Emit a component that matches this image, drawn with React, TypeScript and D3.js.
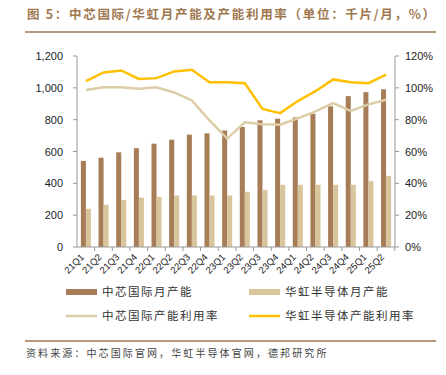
import React from "react";
import * as d3 from "d3";

const quarters = ["21Q1","21Q2","21Q3","21Q4","22Q1","22Q2","22Q3","22Q4","23Q1","23Q2","23Q3","23Q4","24Q1","24Q2","24Q3","24Q4","25Q1","25Q2"];
const smicCap = [541,561,595,621,649,674,706,714,732,754,796,806,814,837,884,948,973,991];
const hhCap = [240,265,295,310,315,324,324,324,324,347,358,391,391,391,391,391,414,447];
const smicUtil = [98.7,100.4,100.3,99.5,100.4,97.1,92.1,79.5,68.1,78.3,77.1,76.8,80.8,85.2,90.4,85.5,89.6,92.5];
const hhUtil = [104.2,109.7,110.9,105.6,106.1,110.3,111.4,103.5,103.5,102.9,86.7,84.1,91.7,97.9,105.3,103.5,102.9,108.3];
const leftTicks = [0,200,400,600,800,1000,1200];
const rightTicks = [0,20,40,60,80,100,120];

const C_SMIC = "#A67D57";
const C_HH = "#D9C59B";
const C_SMIC_L = "#DCCDA6";
const C_HH_L = "#FFC000";
const C_TITLE = "#A0784F";
const FONT = "'Liberation Sans', Arial, sans-serif";
const CJK = "'Noto Sans CJK SC', sans-serif";

export default function App() {
  const W = 446, H = 375;
  const x0 = 77, x1 = 395, yTop = 56, yBot = 247;
  const x = d3.scaleBand<string>().domain(quarters).range([x0, x1]).paddingInner(0.43).paddingOuter(0.22);
  const step = x.step();
  const bw = x.bandwidth() / 2;
  const yL = d3.scaleLinear().domain([0, 1200]).range([yBot, yTop]);
  const yR = d3.scaleLinear().domain([0, 120]).range([yBot, yTop]);
  const cx = (q: string) => (x(q) as number) + x.bandwidth() / 2;
  const lineSmic = d3.line<number>().x((_, i) => cx(quarters[i])).y((d) => yR(d))(smicUtil) as string;
  const lineHH = d3.line<number>().x((_, i) => cx(quarters[i])).y((d) => yR(d))(hhUtil) as string;
  const fmt = d3.format(",");

  return (
    <svg width={W} height={H} style={{ position: "absolute", left: 0, top: 0, background: "#fff" }}>
      <text x={27} y={19} fill={C_TITLE} fontFamily={CJK} fontSize={12.5} fontWeight={700} letterSpacing={1.7}>
        图 5：中芯国际/华虹月产能及产能利用率（单位：千片/月，%）
      </text>
      <line x1={25} x2={436} y1={32} y2={32} stroke={C_TITLE} strokeWidth={1.5} />

      {/* bars */}
      {quarters.map((q, i) => (
        <g key={q}>
          <rect x={x(q)} y={yL(smicCap[i])} width={bw} height={yBot - yL(smicCap[i])} fill={C_SMIC} />
          <rect x={(x(q) as number) + bw} y={yL(hhCap[i])} width={bw} height={yBot - yL(hhCap[i])} fill={C_HH} />
        </g>
      ))}

      {/* axes */}
      <line x1={x0} x2={x0} y1={yTop} y2={yBot} stroke="#999" strokeWidth={1} />
      <line x1={x1} x2={x1} y1={yTop} y2={yBot} stroke="#999" strokeWidth={1} />
      <line x1={x0} x2={x1} y1={yBot} y2={yBot} stroke="#999" strokeWidth={1} />
      {leftTicks.map((t) => (
        <g key={"l" + t}>
          <line x1={x0 - 4} x2={x0} y1={yL(t)} y2={yL(t)} stroke="#999" />
          <text x={x0 - 14} y={yL(t) + 4} textAnchor="end" fontFamily={FONT} fontSize={11} fill="#222">{fmt(t)}</text>
        </g>
      ))}
      {rightTicks.map((t) => (
        <g key={"r" + t}>
          <line x1={x1} x2={x1 + 4} y1={yR(t)} y2={yR(t)} stroke="#999" />
          <text x={x1 + 10} y={yR(t) + 4} textAnchor="start" fontFamily={FONT} fontSize={11} fill="#222">{t}%</text>
        </g>
      ))}
      {quarters.map((q, i) => (
        <line key={"t" + q} x1={x0 + step * (i + 1)} x2={x0 + step * (i + 1)} y1={yBot} y2={yBot + 4} stroke="#999" />
      ))}
      {quarters.map((q) => (
        <text key={"x" + q} transform={`translate(${cx(q) - 3},${yBot + 9}) rotate(-45)`} textAnchor="end" dominantBaseline="middle" fontFamily={FONT} fontSize={9.5} fill="#222">{q}</text>
      ))}

      {/* lines */}
      <path d={lineSmic} fill="none" stroke={C_SMIC_L} strokeWidth={2.5} />
      <path d={lineHH} fill="none" stroke={C_HH_L} strokeWidth={2.5} />

      {/* legend */}
      <rect x={66} y={289} width={31} height={6} fill={C_SMIC} />
      <text x={102} y={296} fontFamily={CJK} fontSize={11.5} fill="#333" letterSpacing={1.5}>中芯国际月产能</text>
      <rect x={249} y={289} width={31} height={6} fill={C_HH} />
      <text x={285} y={296} fontFamily={CJK} fontSize={11.5} fill="#333" letterSpacing={1.5}>华虹半导体月产能</text>
      <line x1={66} x2={97} y1={316} y2={316} stroke={C_SMIC_L} strokeWidth={2.5} />
      <text x={102} y={320} fontFamily={CJK} fontSize={11.5} fill="#333" letterSpacing={1.5}>中芯国际产能利用率</text>
      <line x1={249} x2={280} y1={316} y2={316} stroke={C_HH_L} strokeWidth={2.5} />
      <text x={285} y={320} fontFamily={CJK} fontSize={11.5} fill="#333" letterSpacing={1.5}>华虹半导体产能利用率</text>

      <line x1={25} x2={436} y1={341} y2={341} stroke={C_TITLE} strokeWidth={1.5} />
      <text x={26} y={357} fontFamily={CJK} fontSize={10} fill="#444" letterSpacing={2.1}>资料来源：中芯国际官网，华虹半导体官网，德邦研究所</text>
    </svg>
  );
}
